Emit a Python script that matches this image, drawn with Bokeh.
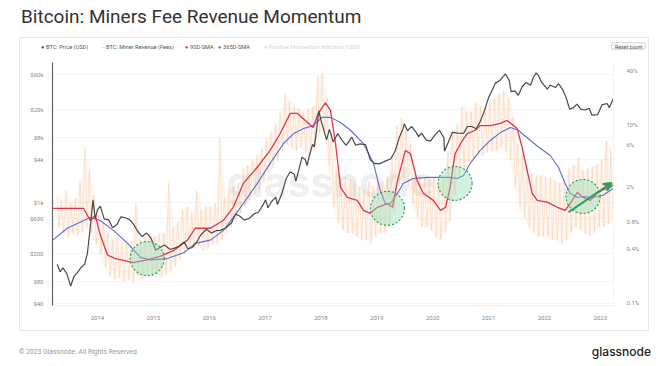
import numpy as np
from bokeh.plotting import figure
from bokeh.layouts import column
from bokeh.models import (Range1d, LogScale, LogAxis, FixedTicker, Label, Div,
                          Arrow, VeeHead)
from bokeh.embed import file_html
from bokeh.resources import INLINE

# ---------------- data ----------------
title_text = "Bitcoin: Miners Fee Revenue Momentum"
year_ticks = [2014, 2015, 2016, 2017, 2018, 2019, 2020, 2021, 2022, 2023]
price_ticks = [40, 80, 200, 600, 1000, 4000, 8000, 20000, 60000]
price_tick_labels = ["$40", "$80", "$200", "$600", "$1k", "$4k", "$8k", "$20k", "$60k"]
fee_ticks = [0.1, 0.4, 0.8, 2, 6, 10, 40]
fee_tick_labels = ["0.1%", "0.4%", "0.8%", "2%", "6%", "10%", "40%"]
legend_labels = ["BTC: Price (USD)", "BTC: Miner Revenue (Fees)", "90D-SMA", "365D-SMA",
                 "Positive Momentum Indicator (USD)"]

price_t = [2013.28, 2013.33, 2013.38, 2013.45, 2013.52, 2013.58, 2013.63, 2013.70, 2013.77, 2013.82,
           2013.87, 2013.92, 2013.96, 2014.00, 2014.05, 2014.12, 2014.20, 2014.27, 2014.35, 2014.42,
           2014.50, 2014.58, 2014.65, 2014.72, 2014.80, 2014.88, 2014.96, 2015.04, 2015.12, 2015.20,
           2015.30, 2015.38, 2015.46, 2015.55, 2015.62, 2015.70, 2015.78, 2015.85, 2015.95, 2016.04,
           2016.12, 2016.20, 2016.30, 2016.40, 2016.47, 2016.55, 2016.63, 2016.72, 2016.80, 2016.88,
           2016.97, 2017.01, 2017.05, 2017.12, 2017.19, 2017.22, 2017.30, 2017.38, 2017.45, 2017.52,
           2017.55, 2017.60, 2017.66, 2017.72, 2017.75, 2017.80, 2017.85, 2017.88, 2017.92, 2017.96,
           2018.00, 2018.04, 2018.10, 2018.15, 2018.22, 2018.30, 2018.37, 2018.45, 2018.55, 2018.62,
           2018.70, 2018.80, 2018.88, 2018.96, 2019.05, 2019.15, 2019.25, 2019.33, 2019.40, 2019.47,
           2019.49, 2019.55, 2019.62, 2019.70, 2019.75, 2019.80, 2019.88, 2019.96, 2020.05, 2020.12,
           2020.20, 2020.21, 2020.28, 2020.35, 2020.45, 2020.55, 2020.62, 2020.70, 2020.78, 2020.85,
           2020.92, 2021.00, 2021.05, 2021.12, 2021.20, 2021.27, 2021.30, 2021.37, 2021.40, 2021.47,
           2021.53, 2021.60, 2021.67, 2021.75, 2021.80, 2021.85, 2021.90, 2021.95, 2022.05, 2022.10,
           2022.20, 2022.25, 2022.32, 2022.38, 2022.45, 2022.52, 2022.58, 2022.65, 2022.72, 2022.80,
           2022.85, 2022.95, 2023.03, 2023.12, 2023.16, 2023.23]
price_v = [140, 110, 125, 105, 70, 95, 105, 125, 140, 200,
           450, 1100, 600, 800, 900, 600, 580, 450, 500, 640,
           620, 580, 500, 400, 340, 380, 320, 220, 240, 260,
           225, 235, 250, 285, 230, 240, 290, 360, 430, 380,
           410, 415, 450, 530, 700, 650, 575, 610, 700, 740,
           960, 1100, 850, 1050, 1200, 950, 1350, 2200, 2700, 2500,
           2000, 2800, 4300, 4000, 3300, 4800, 6500, 6000, 10000, 19000,
           14000, 11000, 7500, 10500, 7000, 9200, 7500, 6300, 8200, 6300,
           6600, 6400, 4000, 3500, 3500, 3800, 4100, 5300, 8000, 10800,
           12500, 10000, 11500, 9600, 8300, 9300, 7500, 7200, 9000, 10200,
           8000, 5200, 7000, 9500, 9300, 9200, 11500, 11500, 10700, 13500,
           18500, 29000, 35000, 46000, 50000, 58000, 62000, 50000, 35000, 36000,
           31000, 41000, 47000, 43000, 55000, 64000, 57000, 47000, 38000, 43000,
           40000, 45500, 38000, 30000, 20000, 21000, 23500, 20000, 19500, 20500,
           16500, 16800, 23000, 24000, 21000, 28000]

# miner fee revenue share (%), monthly high / low from Apr 2013 to Mar 2023
fee_hi = [1.6, 1.4, 1.8, 1.3, 1.5, 2.4, 5.5, 3.0, 1.6,
          0.95, 0.8, 0.6, 0.5, 0.55, 0.45, 0.5, 0.48, 1.29, 0.5, 0.55, 0.6,
          0.55, 0.6, 0.6, 2.2, 0.7, 0.8, 1.1, 1.2, 1.0, 1.8, 1.1, 1.2,
          1.2, 1.3, 7.0, 1.5, 1.9, 2.0, 2.2, 3.2, 3.5, 4.0, 4.5, 5.5,
          7.0, 8.5, 10, 14, 22, 18, 16, 15, 14, 15, 16, 35,
          38, 20, 8, 3.0, 2.5, 2.6, 2.4, 2.2, 2.0, 1.8, 2.3, 2.0,
          2.2, 2.3, 2.6, 4.5, 9.7, 12, 9.0, 6.0, 3.0, 2.6, 2.5, 2.4,
          2.5, 2.2, 2.7, 5.0, 8.6, 10, 16, 14, 14, 18, 16, 15,
          18, 20, 22, 24, 20, 12, 6, 4.5, 3.5, 2.8, 2.6, 2.7,
          2.6, 2.5, 2.3, 2.2, 2.4, 3.2, 3.5, 4.3, 3.0, 3.2, 3.4, 3.6,
          4.0, 6.6, 5.0]
fee_lo = [0.7, 0.6, 0.55, 0.6, 0.55, 0.6, 0.7, 0.6, 0.45,
          0.35, 0.25, 0.2, 0.18, 0.19, 0.17, 0.18, 0.17, 0.2, 0.18, 0.2, 0.2,
          0.2, 0.19, 0.2, 0.22, 0.25, 0.3, 0.35, 0.38, 0.4, 0.42, 0.38, 0.4,
          0.45, 0.45, 0.5, 0.6, 0.7, 0.8, 1.0, 1.2, 1.4, 1.6, 1.8, 2.2,
          2.8, 3.2, 3.8, 5.0, 6.0, 5.5, 5.0, 5.5, 4.8, 4.5, 5.0, 8.0,
          8.0, 3.5, 1.2, 0.8, 0.65, 0.6, 0.6, 0.55, 0.5, 0.5, 0.45, 0.55,
          0.6, 0.6, 0.7, 1.0, 2.0, 2.5, 2.0, 1.3, 0.9, 0.7, 0.7, 0.65,
          0.55, 0.5, 0.6, 0.8, 1.6, 2.5, 3.2, 3.8, 4.0, 4.5, 4.5, 4.8,
          5.0, 5.0, 5.5, 5.0, 4.0, 2.0, 1.2, 0.9, 0.7, 0.6, 0.55, 0.55,
          0.55, 0.5, 0.5, 0.45, 0.5, 0.6, 0.7, 0.65, 0.6, 0.55, 0.6, 0.7,
          0.7, 0.75, 0.8]
fee_start_year = 2013
fee_start_month = 4

sma90_t = [2013.20, 2013.75, 2013.87, 2013.96, 2014.05, 2014.18, 2014.32, 2014.64, 2014.89, 2015.13,
           2015.36, 2015.61, 2015.75, 2016.02, 2016.25, 2016.43, 2016.61, 2016.86, 2017.09, 2017.27,
           2017.45, 2017.58, 2017.72, 2017.86, 2017.95, 2018.08, 2018.17, 2018.26, 2018.35, 2018.47,
           2018.65, 2018.76, 2018.88, 2019.01, 2019.19, 2019.28, 2019.37, 2019.51, 2019.60, 2019.72,
           2019.83, 2020.01, 2020.14, 2020.23, 2020.31, 2020.40, 2020.53, 2020.62, 2020.76, 2020.85,
           2021.03, 2021.21, 2021.33, 2021.51, 2021.60, 2021.69, 2021.78, 2021.87, 2022.05, 2022.23,
           2022.37, 2022.46, 2022.59, 2022.69, 2022.82, 2022.94, 2023.05, 2023.18, 2023.23]
sma90_v = [1.14, 1.14, 0.83, 0.95, 0.57, 0.34, 0.31, 0.28, 0.30, 0.33,
           0.38, 0.50, 0.68, 0.68, 0.83, 1.17, 2.17, 3.3, 5.1, 7.9,
           13.3, 13.3, 11.1, 9.25, 13.3, 17.5, 14.4, 6.1, 1.96, 1.51,
           1.40, 1.08, 1.00, 1.17, 1.29, 1.17, 2.35, 5.1, 4.7, 2.35,
           1.68, 1.40, 1.08, 1.17, 1.96, 4.7, 6.6, 7.9, 8.6, 9.7,
           9.7, 10.3, 11.1, 9.0, 5.5, 3.04, 1.68, 1.40, 1.34, 1.17,
           1.08, 1.29, 1.72, 1.51, 1.40, 1.68, 1.85, 1.96, 2.1]

sma365_t = [2013.20, 2013.46, 2013.64, 2013.87, 2014.05, 2014.29, 2014.54, 2014.77, 2014.95, 2015.25,
            2015.54, 2015.75, 2016.02, 2016.25, 2016.43, 2016.61, 2016.86, 2017.09, 2017.33, 2017.51,
            2017.69, 2017.86, 2018.02, 2018.17, 2018.35, 2018.53, 2018.76, 2018.94, 2019.06, 2019.15,
            2019.24, 2019.37, 2019.47, 2019.65, 2019.90, 2020.14, 2020.31, 2020.44, 2020.55, 2020.67,
            2020.85, 2021.03, 2021.21, 2021.39, 2021.53, 2021.75, 2021.92, 2022.10, 2022.25, 2022.37,
            2022.46, 2022.59, 2022.69, 2022.86, 2022.94, 2023.05, 2023.23]
sma365_v = [0.50, 0.68, 0.77, 0.90, 0.83, 0.64, 0.46, 0.32, 0.30, 0.31,
            0.36, 0.46, 0.50, 0.64, 0.90, 1.29, 2.17, 3.65, 6.1, 7.9,
            9.0, 9.7, 12.0, 12.0, 10.5, 8.6, 6.1, 3.65, 1.81, 1.29,
            1.29, 1.68, 2.17, 2.47, 2.54, 2.54, 2.54, 2.47, 2.67, 3.65,
            5.1, 6.6, 8.1, 9.25, 8.6, 6.6, 5.4, 4.5, 3.3, 2.17,
            1.68, 1.51, 1.55, 1.51, 1.55, 1.60, 1.90]

momentum_t = [2014.89, 2019.19, 2020.40, 2022.69]
momentum_v = [0.31, 1.14, 2.17, 1.55]
trend_start = (2022.43, 1.03)
trend_end = (2023.20, 2.2)

# ---------------- derived sources ----------------
fee_t, fee_v, fee_mid_t = [], [], []
for i, (h, l) in enumerate(zip(fee_hi, fee_lo)):
    base = fee_start_year + (fee_start_month - 1 + i) / 12.0
    fee_t += [base + 0.25 / 12.0, base + 0.75 / 12.0]
    fee_v += [h, l]
    fee_mid_t.append(base + 0.5 / 12.0)

# ---------------- colours ----------------
C_PRICE = "#4a4a4a"
C_FEE = "#f4a66a"
C_90 = "#e0344f"
C_365 = "#5b6ed8"
C_MOM = "#2e9e63"

# ---------------- page geometry ----------------
CARD_L, CARD_R, CARD_T, CARD_B = 20, 648, 38, 330
LEG_H = 18
FRAME_L, FRAME_R, FRAME_T, FRAME_B = 52, 613, 62, 305
PAGE_W, PAGE_H = 660, 366

card_w = CARD_R - CARD_L
fig_h = CARD_B - CARD_T - LEG_H
fig_top = CARD_T + LEG_H

p = figure(width=card_w, height=fig_h, output_backend="svg", toolbar_location=None,
           y_axis_type="log", x_range=Range1d(2013.195, 2023.235),
           y_range=Range1d(37.5, 89000),
           min_border_left=FRAME_L - CARD_L, min_border_right=CARD_R - FRAME_R,
           min_border_top=FRAME_T - fig_top, min_border_bottom=CARD_B - FRAME_B,
           margin=0)
p.outline_line_color = None
p.background_fill_color = "white"
p.border_fill_color = "white"

p.extra_y_ranges = {"fee": Range1d(0.092, 49.7)}
p.extra_y_scales = {"fee": LogScale()}

FONT = "Roboto"
xa = p.xaxis[0]
xa.ticker = FixedTicker(ticks=year_ticks)
xa.major_label_overrides = {y: str(y) for y in year_ticks}
xa.axis_line_color = "#eeeeee"
xa.major_tick_line_color = None
xa.minor_tick_line_color = None
xa.major_label_text_font = FONT
xa.major_label_text_font_size = "6px"
xa.major_label_text_color = "#888888"
xa.major_label_standoff = 4

ya = p.yaxis[0]
ya.ticker = FixedTicker(ticks=price_ticks)
ya.major_label_overrides = dict(zip(price_ticks, price_tick_labels))
ya.axis_line_color = "#666666"
ya.axis_line_width = 1.2
ya.major_tick_line_color = None
ya.minor_tick_line_color = None
ya.major_label_text_font = FONT
ya.major_label_text_font_size = "6px"
ya.major_label_text_color = "#888888"
ya.major_label_standoff = 3

ra = LogAxis(y_range_name="fee", ticker=FixedTicker(ticks=fee_ticks),
             major_label_overrides=dict(zip(fee_ticks, fee_tick_labels)))
ra.axis_line_color = "#f3f3f3"
ra.major_tick_line_color = None
ra.minor_tick_line_color = None
ra.major_label_text_font = FONT
ra.major_label_text_font_size = "6px"
ra.major_label_text_color = "#888888"
ra.major_label_standoff = 7
p.add_layout(ra, "right")

p.xgrid.grid_line_color = None
p.ygrid.grid_line_color = "#f2f2f2"
p.ygrid.grid_line_width = 0.8

# watermark (frame-relative screen units)
p.add_layout(Label(x=330 - FRAME_L, y=FRAME_B - 181, x_units="screen", y_units="screen",
                   text="glassnode", text_font="Inter", text_font_size="41px",
                   text_font_style="bold", text_color="#000000", text_alpha=0.08,
                   text_align="center", text_baseline="middle", level="underlay"))

# series
p.varea(x=fee_mid_t, y1=fee_lo, y2=fee_hi, y_range_name="fee",
        fill_color="#f8c8a2", fill_alpha=0.16)
p.line(fee_t, fee_v, y_range_name="fee", line_color=C_FEE, line_alpha=0.3, line_width=0.8)
p.line(sma365_t, sma365_v, y_range_name="fee", line_color=C_365, line_width=1.1)
p.line(sma90_t, sma90_v, y_range_name="fee", line_color=C_90, line_width=1.3)
p.line(price_t, price_v, line_color=C_PRICE, line_width=1.2)

p.scatter(momentum_t, momentum_v, y_range_name="fee", marker="circle", size=34,
          fill_color="#8fdcb3", fill_alpha=0.4, line_color=C_MOM,
          line_dash="2 2", line_width=1.2)
p.add_layout(Arrow(end=VeeHead(size=8, line_color="#22a060", fill_color="#22a060",
                               line_width=2),
                   x_start=trend_start[0], y_start=trend_start[1],
                   x_end=trend_end[0], y_end=trend_end[1],
                   y_range_name="fee", line_color="#22a060", line_width=2))

# ---------------- html text blocks ----------------
def span(x, y_center, text, size, color, weight="normal", extra=""):
    return (f'<span style="position:absolute;left:{x}px;top:{y_center - 5}px;'
            f'height:10px;line-height:10px;font-size:{size};color:{color};'
            f'font-weight:{weight};white-space:nowrap;{extra}">{text}</span>')

title_div = Div(text=(f'<div style="position:relative;width:{PAGE_W}px;height:{CARD_T}px;'
                      f'font-family:{FONT};">'
                      f'<span style="position:absolute;left:21px;top:4px;line-height:25px;'
                      f'font-size:19px;color:#333333;white-space:nowrap;">{title_text}</span></div>'),
                width=PAGE_W, height=CARD_T, margin=0)

leg_markers = [("●", C_PRICE), ("—", "#f4b080"), ("●", C_90), ("●", C_365), ("●", "#e2e2e2")]
leg_x = [43, 103, 187, 220, 266]
leg_text_color = ["#555555", "#555555", "#555555", "#555555", "#d4d4d4"]
ly = 47 - CARD_T
leg_html = f'<div style="position:relative;width:{card_w}px;height:{LEG_H}px;font-family:{FONT};">'
for (mk, mc), lx, lt, tc in zip(leg_markers, leg_x, legend_labels, leg_text_color):
    leg_html += span(lx - CARD_L - 2, ly, mk, "5.5px", mc)
    leg_html += span(lx - CARD_L + 3, ly, lt, "5.7px", tc)
leg_html += span(611 - CARD_L, ly, "Reset zoom", "5.2px", "#555555",
                 extra="height:8px;line-height:8px;padding:0 3px;border:1px solid #dddddd;"
                       "border-radius:2px;background:#f6f6f6;")
leg_html += '</div>'
legend_div = Div(text=leg_html, width=card_w, height=LEG_H, margin=0)

foot_h = PAGE_H - CARD_B
fy = 352 - CARD_B
foot_html = (f'<div style="position:relative;width:{PAGE_W}px;height:{foot_h}px;font-family:{FONT};">'
             + span(19, fy, "© 2023 Glassnode. All Rights Reserved.", "6.8px", "#999999")
             + f'<span style="position:absolute;right:{PAGE_W - 651}px;top:{fy - 9}px;'
               f'line-height:18px;font-size:12px;font-weight:500;color:#222222;'
               f'font-family:Inter;">glassnode</span>'
             + '</div>')
footer_div = Div(text=foot_html, width=PAGE_W, height=foot_h, margin=0)

card = column(legend_div, p, width=card_w, height=CARD_B - CARD_T, spacing=0,
              margin=(0, 0, 0, CARD_L), styles={"outline": "1px solid #e6e6e6"})
root = column(title_div, card, footer_div, spacing=0, margin=0)

open("out.html", "w").write(file_html(root, INLINE))
